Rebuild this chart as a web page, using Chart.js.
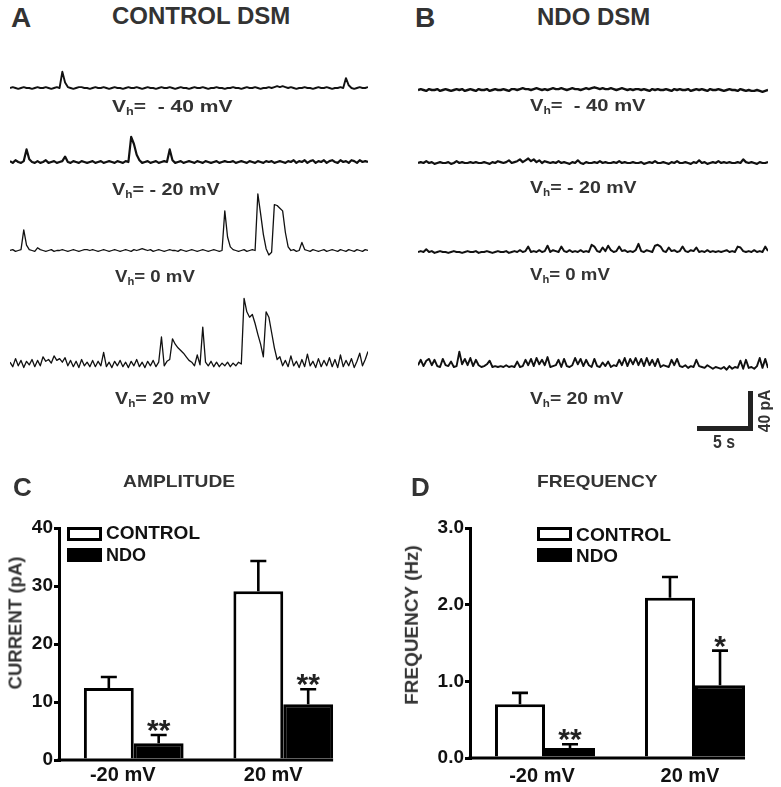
<!DOCTYPE html>
<html><head><meta charset="utf-8">
<script src="https://cdn.jsdelivr.net/npm/chart.js@4.4.1/dist/chart.umd.min.js"></script>
<style>
html,body{margin:0;padding:0;background:#fff;}
#fig{position:relative;width:781px;height:787px;overflow:hidden;background:#fff;font-family:"Liberation Sans",Arial,Helvetica,sans-serif;}
canvas{position:absolute;}
.t{position:absolute;white-space:nowrap;line-height:1;font-weight:bold;color:#333;transform-origin:left top;}
.t sub{font-size:0.6em;vertical-align:-0.3em;line-height:0;}
.box{position:absolute;box-sizing:border-box;border:3px solid #000;}
.sb{position:absolute;background:#222;}
</style></head><body><div id="fig">
<canvas id="cA" width="358" height="360" style="left:10px;top:40px"></canvas>
<canvas id="cB" width="350" height="360" style="left:418px;top:40px"></canvas>
<canvas id="cC" width="380" height="287" style="left:0px;top:500px"></canvas>
<canvas id="cD" width="391" height="287" style="left:390px;top:500px"></canvas>
<div class="sb" style="left:697px;top:426px;width:56px;height:5px"></div>
<div class="sb" style="left:748px;top:391px;width:5px;height:40px"></div>
</div>
<script>
// ---------- DATA ----------
const DT = 0.25; // seconds per sample
// CONTROL DSM traces (pA, relative to baseline)
const ctrlM40 = [
0,1,0,-1,0,1,0,0,-1,0,
1,0,0,1,0,-1,0,1,0,18,
6,1,0,-1,0,1,1,0,0,-1,
0,1,0,0,1,0,-1,0,1,0,
0,-1,0,1,0,0,1,0,-1,0,
1,0,0,-1,0,1,0,0,1,0,
-1,0,1,0,0,-1,0,1,0,0,
1,0,-1,0,0,1,0,0,-1,0,
0,1,0,0,-1,0,1,0,0,1,
0,-1,0,0,1,0,1,2,1,2,
1,0,1,0,-1,0,0,1,0,0,
-1,0,1,0,0,1,0,-1,0,0,
1,0,11,3,0,-1,0,1,0,0,
1];
const ctrlM20 = [
1,-1,2,0,-1,1,14,3,0,-1,
1,-1,0,2,-1,0,1,-1,0,1,
6,0,-1,1,0,-1,1,0,-1,0,
1,-1,0,1,-1,0,1,0,-1,1,
0,-1,1,0,28,20,8,2,-1,0,
1,-1,0,1,-1,0,1,0,14,2,
-1,0,1,-1,0,1,0,-1,1,0,
-1,1,0,-1,0,1,-1,0,1,0,
0,1,-1,0,1,0,-1,1,0,-1,
1,0,-1,1,0,1,-1,0,1,0,
-1,1,0,2,-1,1,0,2,-1,1,
2,-1,1,0,2,-1,1,2,0,-1,
2,0,1,-1,2,1,-1,2,0,1,
0];
const ctrl0 = [
0,1,-1,0,1,23,6,1,0,-1,
3,1,0,-1,0,1,-1,0,0,1,
0,-1,0,1,0,-1,0,1,1,0,
1,0,-1,0,1,0,-1,0,1,0,
-1,0,1,0,-1,1,0,1,2,1,
0,1,-1,0,1,0,-1,0,1,0,
0,-1,1,0,-1,0,1,0,-1,0,
1,0,-1,0,1,0,-1,0,44,15,
4,1,0,-1,0,1,-1,0,1,0,
63,41,18,2,-5,-2,51,50,47,44,
20,4,0,1,-1,0,9,1,0,-1,
1,0,-1,0,1,-1,0,1,0,-1,
1,0,-1,1,0,-1,1,0,-1,1,
0];
const ctrlP20 = [
2,-3,6,-2,4,-4,3,-1,5,-3,
4,-2,8,3,5,1,9,4,6,2,
7,-2,4,-3,3,-4,5,-2,2,-3,
4,-3,3,-2,13,-3,2,-4,3,-2,
4,-3,2,-4,3,-2,5,-3,2,-4,
3,-2,4,-3,2,30,-2,3,5,28,
22,18,15,12,8,4,2,-2,10,-1,
41,2,-2,3,-3,2,-3,1,-2,2,
-3,1,-2,2,0,73,58,52,55,45,
33,22,8,58,52,35,18,5,8,-2,
4,-3,9,-2,3,-4,5,-3,11,-2,
3,-4,6,-3,4,-2,7,-3,5,-4,
10,-3,4,-2,6,-4,3,12,-2,5,
14];
// NDO DSM traces (pA, relative to baseline)
const ndoM40 = [
0,1,0,-1,1,0,0,1,-1,0,
1,0,-1,0,1,0,1,-1,0,1,
0,-1,1,0,0,1,-1,0,1,0,
0,1,0,-1,1,1,0,1,2,1,
1,0,1,2,1,0,1,0,1,2,
1,1,2,1,0,1,2,1,1,0,
1,2,1,2,3,2,1,2,1,1,
2,1,0,1,2,1,0,1,0,1,
1,0,1,0,-1,1,0,1,0,0,
1,0,-1,1,0,1,0,0,1,-1,
0,1,0,1,0,-1,1,0,0,1,
0,-1,0,1,0,0,-1,1,0,-1,
0,-1,-1,0,-1,-2,-1,0];
const ndoM20 = [
0,1,0,2,0,1,-1,0,1,0,
0,1,-1,0,2,0,1,0,0,1,
0,1,0,0,1,0,-1,1,0,2,
1,0,1,3,0,1,2,4,1,3,
5,2,4,1,3,0,2,1,0,1,
0,2,0,1,0,-1,1,0,3,0,
-1,1,0,0,1,0,2,0,1,0,
0,1,0,2,0,1,0,0,1,0,
0,1,-1,0,1,0,2,0,0,1,
0,-1,1,0,2,0,0,1,0,-1,
1,0,3,0,1,-1,0,1,0,2,
0,1,0,1,0,0,1,0,4,1,
0,1,0,-1,1,0,0,1];
const ndo0 = [
0,1,0,3,0,1,-1,0,1,0,
0,-1,0,1,0,0,-1,0,1,0,
0,1,-1,0,0,1,0,-1,0,1,
0,0,1,-1,0,1,0,2,0,1,
6,0,1,0,2,0,1,7,0,2,
1,0,6,1,0,2,0,1,0,2,
0,1,0,8,6,1,0,5,1,7,
2,0,1,6,1,2,0,1,0,2,
9,1,0,2,1,0,7,8,6,1,
0,5,1,2,0,1,6,1,0,2,
1,5,0,1,0,2,0,1,0,1,
0,1,2,0,1,0,6,5,1,0,
1,0,2,0,1,0,6,1];
const ndoP20 = [
2,8,1,7,9,2,8,1,0,9,
2,1,6,0,1,17,3,9,2,10,
1,8,2,0,1,3,7,0,1,0,
1,0,2,0,1,0,6,0,1,8,
2,9,1,10,3,8,2,11,0,1,
2,8,0,9,1,0,2,10,3,9,
1,8,2,0,9,1,0,5,1,6,
0,2,1,8,2,10,1,9,3,10,
2,9,1,10,2,8,1,9,0,2,
1,0,8,2,9,1,0,2,-1,1,
0,8,1,0,-1,2,0,-2,0,-1,
-2,0,-3,1,-2,0,-1,7,-2,8,
-1,0,-2,1,10,-1,9,-1];
const holdingLabels = ['V<sub>h</sub>=&nbsp;&nbsp;- 40 mV','V<sub>h</sub>= - 20 mV','V<sub>h</sub>= 0 mV','V<sub>h</sub>= 20 mV'];

// Bar charts
const barCategories = ['-20 mV','20 mV'];
const seriesLabels = ['CONTROL','NDO'];
const ampControl = [12.4, 29.1];
const ampControlSem = [1.9, 5.2];
const ampNdo = [2.9, 9.6];
const ampNdoSem = [1.4, 2.6];
const ampNdoSig = ['**','**'];
const ampTicks = [0, 10, 20, 30, 40];
const freqControl = [0.70, 2.09];
const freqControlSem = [0.15, 0.27];
const freqNdo = [0.13, 0.95];
const freqNdoSem = [0.05, 0.45];
const freqNdoSig = ['**','*'];
const freqTicks = [0.0, 1.0, 2.0, 3.0];

// ---------- LAYOUT ----------
const FONT = '"Liberation Sans", Arial, Helvetica, sans-serif';
const fig = document.getElementById('fig');
function addText(html, x, cap, fs, w, opts={}){
  const d = document.createElement('div');
  d.className = 't';
  d.innerHTML = html;
  d.style.fontSize = fs + 'px';
  if (opts.color) d.style.color = opts.color;
  fig.appendChild(d);
  if (opts.rot){
    d.style.transformOrigin = 'center center';
    const k = w ? w / d.offsetWidth : 1;
    d.style.left = (x - d.offsetWidth/2) + 'px';
    d.style.top = (cap - d.offsetHeight/2) + 'px';
    d.style.transform = 'rotate(-90deg) scaleX(' + k + ')';
  } else {
    d.style.left = x + 'px';
    d.style.top = (cap - 0.13*fs) + 'px';
    if (w) d.style.transform = 'scaleX(' + (w / d.offsetWidth) + ')';
  }
  return d;
}
addText('A', 11, 8, 28, null);
addText('CONTROL DSM', 112, 7, 24, null);
addText('B', 415, 8, 28, null);
addText('NDO DSM', 537, 8, 24, null);
const holdA = [[112,100,120],[112,183,108],[115,270,80],[115,392,95]];
const holdB = [[530,99,115],[530,181,107],[530,268,80],[530,392,93]];
holdingLabels.forEach((h,i)=>{
  addText(h, holdA[i][0], holdA[i][1], 17, holdA[i][2]);
  addText(h, holdB[i][0], holdB[i][1], 17, holdB[i][2]);
});
addText('C', 13, 477, 26, null);
addText('AMPLITUDE', 123, 475, 17, 112);
addText('D', 411, 477, 26, null);
addText('FREQUENCY', 537, 475, 17, 121);
addText('CURRENT (pA)', 15, 623, 18, 133, {rot:true});
addText('FREQUENCY (Hz)', 412, 625, 18, 160, {rot:true});
addText('5 s', 713, 435, 18, 22);
addText('40 pA', 765, 411, 16, 43, {rot:true});

// legends (from series labels)
function legend(bx, by1, by2, tx, cap1, cap2, w1, w2){
  const b1 = document.createElement('div'); b1.className='box';
  Object.assign(b1.style,{left:bx+'px',top:by1+'px',width:'35px',height:'14px',background:'#fff'});
  const b2 = document.createElement('div'); b2.className='box';
  Object.assign(b2.style,{left:bx+'px',top:by2+'px',width:'35px',height:'14px',background:'#000'});
  fig.appendChild(b1); fig.appendChild(b2);
  addText(seriesLabels[0], tx, cap1, 18, w1, {color:'#111'});
  addText(seriesLabels[1], tx, cap2, 18, w2, {color:'#111'});
}
legend(67, 527, 548, 106, 526, 548, 94, 40);
legend(537, 527, 548, 576, 528, 549, 95, 42);

// ---------- TRACES ----------
const PX_PER_PA = 0.9;
function traceChart(id, traces, baselines, widths){
  const c = document.getElementById(id);
  const top = parseFloat(c.style.top);
  const n = traces[0].length;
  const datasets = traces.map((vals,k)=>({
    data: vals.map((v,i)=>({x:i*DT, y:v - (baselines[k]-top)/PX_PER_PA})),
    borderColor:'#111', borderWidth:widths[k], pointRadius:0, tension:0,
    borderJoinStyle:'round', fill:false
  }));
  new Chart(c, {type:'line', data:{datasets}, options:{
    responsive:false, animation:false, devicePixelRatio:1,
    layout:{padding:0}, events:[],
    plugins:{legend:{display:false}, tooltip:{enabled:false}},
    scales:{
      x:{type:'linear', display:false, min:0, max:(n-1)*DT},
      y:{type:'linear', display:false, min:-c.height/PX_PER_PA, max:0}
    }
  }});
}
traceChart('cA', [ctrlM40, ctrlM20, ctrl0, ctrlP20], [88, 162, 250.5, 364], [1.9, 2.2, 1.3, 1.3]);
traceChart('cB', [ndoM40, ndoM20, ndo0, ndoP20], [90, 163, 252, 367], [2.4, 2.2, 2.0, 1.9]);

// ---------- BAR CHARTS ----------
const errPlugin = {
  id:'errbars',
  afterDatasetsDraw(chart, args, opts){
    const ctx = chart.ctx, ys = chart.scales.y, area = chart.chartArea;
    ctx.save();
    ctx.strokeStyle = '#000';
    chart.data.datasets.forEach((ds,di)=>{
      const meta = chart.getDatasetMeta(di);
      meta.data.forEach((el,i)=>{
        const top = ys.getPixelForValue(ds.data[i] + ds.sem[i]);
        ctx.lineWidth = 2.6;
        ctx.beginPath();
        ctx.moveTo(el.x, el.y); ctx.lineTo(el.x, top);
        ctx.moveTo(el.x - opts.cap/2, top); ctx.lineTo(el.x + opts.cap/2, top);
        ctx.stroke();
        if (ds.sig && ds.sig[i]){
          ctx.fillStyle = '#222';
          ctx.font = 'bold 30px ' + FONT;
          ctx.textAlign = 'center'; ctx.textBaseline = 'alphabetic';
          ctx.fillText(ds.sig[i], el.x, top + 5);
        }
      });
    });
    const lastMeta = chart.getDatasetMeta(chart.data.datasets.length-1);
    const last = lastMeta.data[lastMeta.data.length-1];
    ctx.lineWidth = 3;
    ctx.beginPath();
    ctx.moveTo(area.left - 1.5, area.bottom);
    ctx.lineTo(last.x + last.width/2, area.bottom);
    ctx.stroke();
    ctx.fillStyle = '#111';
    ctx.font = 'bold 20px ' + FONT;
    ctx.textAlign = 'center'; ctx.textBaseline = 'alphabetic';
    chart.data.labels.forEach((lab,i)=>{
      const cx = chart.scales.x.getPixelForValue(i);
      ctx.fillText(lab, cx + opts.labelShift[i], opts.labelBaseline);
    });
    ctx.restore();
  }
};
function barChart(id, ctrl, ctrlSem, ndo, ndoSem, sig, ticks, fmt, axisW, padR, xH, shift, lb){
  new Chart(document.getElementById(id), {
    type:'bar',
    data:{labels:barCategories, datasets:[
      {label:seriesLabels[0], data:ctrl, sem:ctrlSem, backgroundColor:'#fff', borderColor:'#000', borderWidth:3, borderSkipped:'bottom', barPercentage:1, categoryPercentage:0.667},
      {label:seriesLabels[1], data:ndo, sem:ndoSem, sig:sig, backgroundColor:'#000', borderColor:'#000', borderWidth:3, borderSkipped:'bottom', barPercentage:1, categoryPercentage:0.667}
    ]},
    options:{
      responsive:false, animation:false, devicePixelRatio:1, events:[],
      layout:{padding:{top:28, right:padR, left:0, bottom:0}},
      plugins:{legend:{display:false}, tooltip:{enabled:false}, errbars:{cap:16, labelShift:shift, labelBaseline:lb}},
      scales:{
        x:{display:true, offset:true, grid:{display:false}, border:{display:false}, ticks:{display:false},
           afterFit(s){ s.height = xH; }},
        y:{min:ticks[0], max:ticks[ticks.length-1],
           ticks:{stepSize:ticks[1]-ticks[0], color:'#111', padding:1, font:{family:FONT, size:19, weight:'bold'},
                  callback:(v)=>fmt(v)},
           grid:{drawOnChartArea:false, drawTicks:true, tickLength:5, color:'#000', lineWidth:3},
           border:{display:true, color:'#000', width:3},
           afterFit(s){ s.width = axisW; }}
      }
    },
    plugins:[errPlugin]
  });
}
barChart('cC', ampControl, ampControlSem, ampNdo, ampNdoSem, ampNdoSig, ampTicks, v=>String(v), 59, 22, 27, [-11,-10], 281);
barChart('cD', freqControl, freqControlSem, freqNdo, freqNdoSem, freqNdoSig, freqTicks, v=>v.toFixed(1), 80, 11, 29, [-3,-5], 282);
</script>
</body></html>
